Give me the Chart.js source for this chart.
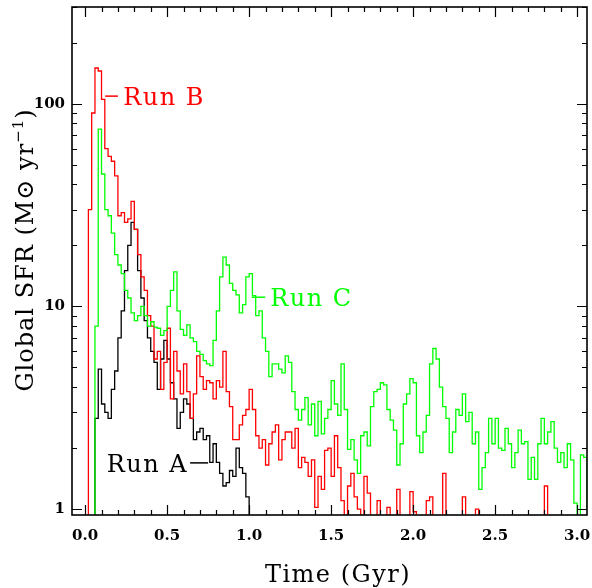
<!DOCTYPE html>
<html>
<head>
<meta charset="utf-8">
<script src="https://cdn.jsdelivr.net/npm/chart.js@4.4.1/dist/chart.umd.min.js"></script>
<style>
  html, body { margin: 0; padding: 0; background: #fff; }
  #wrap { width: 592px; height: 588px; position: relative; }
</style>
</head>
<body>
<div id="wrap"><canvas id="c"></canvas></div>
<script>
// ---- data (histogram bins of width BIN Gyr, starting at 0) ----
const BIN = 0.02;
const BELOW = 0.5; // bins with no star formation (below the plotted range)

const runA = [0.5,0.5,0.5,2.8,4.9,3.3,3.0,2.8,3.9,4.8,
  7.0,9.5,15,20,26,24,15,11,8.5,7.0,
  6.0,5.3,3.9,5.5,6.8,5.5,4.2,3.5,2.5,3.0,
  3.5,3.3,2.8,2.2,2.4,2.5,2.2,2.3,1.7,2.1,
  1.7,1.5,1.3,1.35,1.55,1.45,2.0,1.6,1.5,1.15];

const runB = [0.5,30,90,150,145,105,60,55,52,44,
  28,29,26,27,33,24,18,14,12,9,
  8,5.5,6,3.9,5.3,7.8,3.5,6,4.8,3.7,
  5.2,3.8,2.8,3.7,5.7,4.5,3.9,4.3,4.2,3.5,
  4.3,4.0,6,3.8,3.2,2.2,2.2,2.6,2.9,3.1,
  3.9,3.1,2.3,2.0,2.2,1.65,2.1,2.4,2.6,1.75,
  2.2,2.4,2.4,2.0,2.5,1.6,1.8,1.7,1.45,1.75,
  1.02,1.45,1.25,1.95,2.0,1.45,2.3,1.6,1.1,0.5,
  1.3,1.5,1.15,1.0,0.5,1.45,1.2,0.5,0.5,1.1,
  0.5,0.5,1.02,0.5,0.5,1.25,0.5,0.5,0.5,1.22,
  0.97,0.5,0.5,0.5,1.1,1.15,0.5,0.5,0.5,1.5,
  0.5,0.5,0.5,0.5,0.5,1.15,0.5,0.5,0.5,1.0,
  0.5,0.5,0.5,0.5,0.5,0.5,0.5,0.5,0.5,0.5,
  0.5,0.5,0.5,0.5,0.5,0.5,0.5,0.5,0.5,0.5,
  1.3,0.5];

const runC = [0.5,0.5,0.5,8,75,45,30,28,23,18,
  16,14.5,12,11,9.3,8.5,9,10,9,8,
  8.4,7.9,7.8,7.2,7.6,10,12,14.8,9.5,7.7,
  7.2,8.1,7,6.7,6,5.8,5.4,5.2,5.1,6.8,
  9.5,14,17.5,16,13,12,11.4,9.3,10.2,14,
  14.5,11.3,9,9.5,7,6,4.5,5.2,5.2,4.9,
  4.7,5.7,5.3,3.8,3.1,2.75,3.1,3.55,2.6,3.3,
  2.3,3.4,2.35,2.8,3.1,4.3,3.3,2.9,5.2,3.1,
  1.97,2.2,1.75,1.5,2.3,2.4,2.05,3.2,3.8,3.9,
  4.2,4.1,3.1,2.75,2.45,1.65,2.1,3.3,3.7,4.4,
  4.2,2.3,1.9,2.4,2.9,5.2,6.2,5.5,4.0,3.2,
  2.8,1.9,2.4,3.1,2.9,3.7,2.7,3.0,2.1,2.4,
  1.25,1.6,1.9,2.8,2.1,2.8,2.0,1.95,2.5,2.1,
  1.6,1.9,2.45,2.1,2.15,1.4,1.8,1.4,2.1,2.8,
  2.1,2.4,2.7,2.0,1.7,1.9,1.6,2.1,1.75,1.07,
  0.92,1.85,1.8,1.0];

const xTickLabels = [0.0, 0.5, 1.0, 1.5, 2.0, 2.5, 3.0];
const yTickLabels = [1, 10, 100];
const seriesNames = ['Run A', 'Run B', 'Run C'];
const seriesColors = ['#000000', '#ff0000', '#00ff00'];

// histogram points: left edge of each bin, plus closing edge
function histPoints(vals) {
  const pts = vals.map((v, i) => ({ x: i * BIN, y: v }));
  pts.push({ x: vals.length * BIN, y: BELOW });
  return pts;
}

const SERIF = '"DejaVu Serif", "DejaVu Sans", serif';

const deco = {
  id: 'deco',
  afterDatasetsDraw(chart) {
    const { ctx, chartArea: a, scales: { x, y } } = chart;
    ctx.save();
    // frame
    ctx.strokeStyle = '#000';
    ctx.lineWidth = 1.6;
    ctx.strokeRect(a.left, a.top, a.right - a.left, a.bottom - a.top);
    // inward ticks
    ctx.lineWidth = 1.2;
    ctx.beginPath();
    for (let k = 0; k <= 30; k++) {
      const v = k / 10;
      if (v < x.min || v > x.max) continue;
      const px = Math.round(x.getPixelForValue(v)) + 0.5;
      const len = (k % 5 === 0) ? 10 : 5;
      ctx.moveTo(px, a.bottom); ctx.lineTo(px, a.bottom - len);
      ctx.moveTo(px, a.top); ctx.lineTo(px, a.top + len);
    }
    for (let e = 0; e <= 2; e++) {
      for (let m = 1; m <= 9; m++) {
        const v = m * Math.pow(10, e);
        if (v < y.min || v > y.max) continue;
        const py = Math.round(y.getPixelForValue(v)) + 0.5;
        const len = (m === 1) ? 10 : 5;
        ctx.moveTo(a.left, py); ctx.lineTo(a.left + len, py);
        ctx.moveTo(a.right, py); ctx.lineTo(a.right - len, py);
      }
    }
    ctx.stroke();

    // series labels
    ctx.font = '24px ' + SERIF;
    ctx.textBaseline = 'alphabetic';
    ctx.letterSpacing = '1.5px';
    const lab = (name, color, t1, t2, v, tText, align) => {
      const py = y.getPixelForValue(v);
      ctx.strokeStyle = color; ctx.fillStyle = color; ctx.lineWidth = 1.5;
      ctx.beginPath();
      ctx.moveTo(x.getPixelForValue(t1), py);
      ctx.lineTo(x.getPixelForValue(t2), py);
      ctx.stroke();
      ctx.textAlign = align;
      ctx.fillText(name, x.getPixelForValue(tText), py + 9);
    };
    lab(seriesNames[1], seriesColors[1], 0.122, 0.20, 109, 0.232, 'left');
    lab(seriesNames[2], seriesColors[2], 1.016, 1.098, 11.1, 1.128, 'left');
    lab(seriesNames[0], seriesColors[0], 0.640, 0.750, 1.69, 0.628, 'right');

    // axis titles
    ctx.fillStyle = '#000';
    ctx.textAlign = 'center';
    ctx.font = '24px ' + SERIF;
    ctx.letterSpacing = '1.5px';
    ctx.fillText('Time (Gyr)', 338, 582);

    ctx.letterSpacing = '1px';
    ctx.translate(33, 250);
    ctx.rotate(-Math.PI / 2);
    const main = 'Global SFR (M\u2299 yr';
    const sup = '\u22121';
    const close = ')';
    ctx.font = '24px ' + SERIF;
    const wMain = ctx.measureText(main).width;
    const wClose = ctx.measureText(close).width;
    ctx.font = '15px ' + SERIF;
    const wSup = ctx.measureText(sup).width;
    const total = wMain + wSup + wClose;
    let cx = -total / 2;
    ctx.textAlign = 'left';
    ctx.font = '24px ' + SERIF;
    ctx.fillText(main, cx, 0); cx += wMain;
    ctx.font = '15px ' + SERIF;
    ctx.fillText(sup, cx, -10); cx += wSup;
    ctx.font = '24px ' + SERIF;
    ctx.fillText(close, cx, 0);
    ctx.restore();
  }
};

const cfg = {
  type: 'line',
  data: {
    datasets: [
      { label: seriesNames[2], data: histPoints(runC), borderColor: seriesColors[2] },
      { label: seriesNames[1], data: histPoints(runB), borderColor: seriesColors[1] },
      { label: seriesNames[0], data: histPoints(runA), borderColor: seriesColors[0] }
    ].map(d => Object.assign(d, { stepped: true, pointRadius: 0, borderWidth: 1.3, fill: false, tension: 0 }))
  },
  options: {
    responsive: true,
    maintainAspectRatio: false,
    animation: false,
    layout: { padding: { left: 0, right: 5, top: 7, bottom: 0 } },
    plugins: { legend: { display: false }, tooltip: { enabled: false } },
    scales: {
      x: {
        type: 'linear', min: -0.08, max: 3.06,
        grid: { display: false, drawTicks: false },
        border: { display: false },
        afterBuildTicks: s => { s.ticks = xTickLabels.map(v => ({ value: v })); },
        afterFit: s => { s.height = 73; s.paddingLeft = 0; s.paddingRight = 0; },
        ticks: {
          padding: 12, color: '#000', maxRotation: 0, autoSkip: false,
          font: { family: SERIF, size: 15, weight: 'bold' },
          callback: v => Number(v).toFixed(1)
        }
      },
      y: {
        type: 'logarithmic', min: 0.935, max: 300,
        grid: { display: false, drawTicks: false },
        border: { display: false },
        afterBuildTicks: s => { s.ticks = yTickLabels.map(v => ({ value: v })); },
        afterFit: s => { s.width = 72; s.paddingTop = 0; s.paddingBottom = 0; },
        ticks: {
          padding: 7, color: '#000', autoSkip: false,
          font: { family: SERIF, size: 15, weight: 'bold' },
          callback: v => String(v)
        }
      }
    }
  },
  plugins: [deco]
};

new Chart(document.getElementById('c'), cfg);
</script>
</body>
</html>
